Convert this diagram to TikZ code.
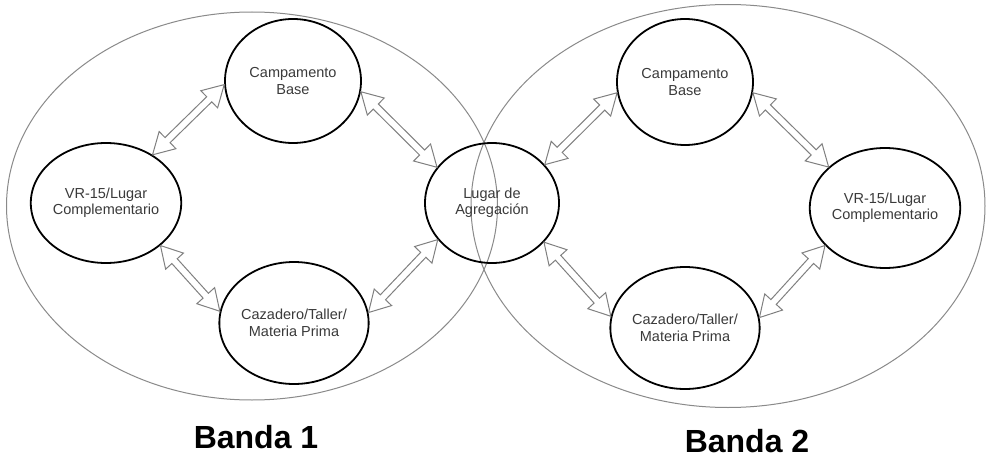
\documentclass[tikz,border=0pt]{standalone}
\usepackage{fontspec}
\setmainfont{Liberation Sans}
\usetikzlibrary{shapes.geometric,calc}
\definecolor{txtgray}{HTML}{3A3A3A}
\definecolor{arrgray}{HTML}{808080}
\definecolor{outgray}{HTML}{8A8A8A}
\def\hl{21pt}\def\hw{12pt}\def\sw{3.6pt}
\newcommand\dblarr[2]{%
  \coordinate (p) at (#1);
  \coordinate (q) at (#2);
  \coordinate (hp) at ($(p)!\hl!(q)$);
  \coordinate (hq) at ($(q)!\hl!(p)$);
  \draw[dblarrow] (p) -- ($(hp)!\hw!90:(q)$) -- ($(hp)!\sw!90:(q)$) -- ($(hq)!\sw!-90:(p)$) -- ($(hq)!\hw!-90:(p)$) -- (q)
    -- ($(hq)!\hw!90:(p)$) -- ($(hq)!\sw!90:(p)$) -- ($(hp)!\sw!-90:(q)$) -- ($(hp)!\hw!-90:(q)$) -- cycle;
}
\tikzset{
  place/.style={ellipse, draw=black, line width=1.8pt, inner sep=0pt, align=center,
    text=txtgray, font=\fontsize{14.5}{16.5}\selectfont},
  outer/.style={ellipse, draw=outgray, line width=1pt, inner sep=0pt},
  dblarrow/.style={draw=arrgray, fill=white, line width=1pt, line join=miter},
  banda/.style={font=\fontsize{32}{36}\selectfont\bfseries, text=black}
}
\begin{document}
\begin{tikzpicture}[x=1pt,y=-1pt]
\useasboundingbox (0,0) rectangle (989,460);
\fill[white] (0,0) rectangle (989,460);
% outer band ellipses
\node[outer, minimum width=491pt, minimum height=388pt] (band1) at (252,206) {};
\node[outer, minimum width=514pt, minimum height=403pt] (band2) at (728,206) {};
% places
\node[place, minimum width=136pt, minimum height=124pt] (c1) at (293,81) {Campamento\\Base};
\node[place, minimum width=134pt, minimum height=120pt] (v1) at (106,203) {VR-15/Lugar\\Complementario};
\node[place, minimum width=136pt, minimum height=122pt] (z1) at (294,323) {Cazadero/Taller/\\Materia Prima};
\node[place, minimum width=134pt, minimum height=120pt] (lg) at (492,203) {Lugar de\\Agregación};
\node[place, minimum width=136pt, minimum height=126pt] (c2) at (685,82) {Campamento\\Base};
\node[place, minimum width=138pt, minimum height=120pt] (v2) at (885,208) {VR-15/Lugar\\Complementario};
\node[place, minimum width=136pt, minimum height=122pt] (z2) at (685,328) {Cazadero/Taller/\\Materia Prima};
% arrows
\dblarr{c1.183}{v1.46}
\dblarr{c1.351}{lg.147}
\dblarr{v1.322}{z1.171}
\dblarr{z1.8}{lg.214}
\dblarr{lg.36}{c2.189}
\dblarr{c2.351}{v2.144}
\dblarr{lg.323}{z2.171}
\dblarr{z2.8}{v2.212}
% labels
\node[banda] (b1) at (256,437) {Banda 1};
\node[banda] (b2) at (747,441) {Banda 2};
\end{tikzpicture}
\end{document}
